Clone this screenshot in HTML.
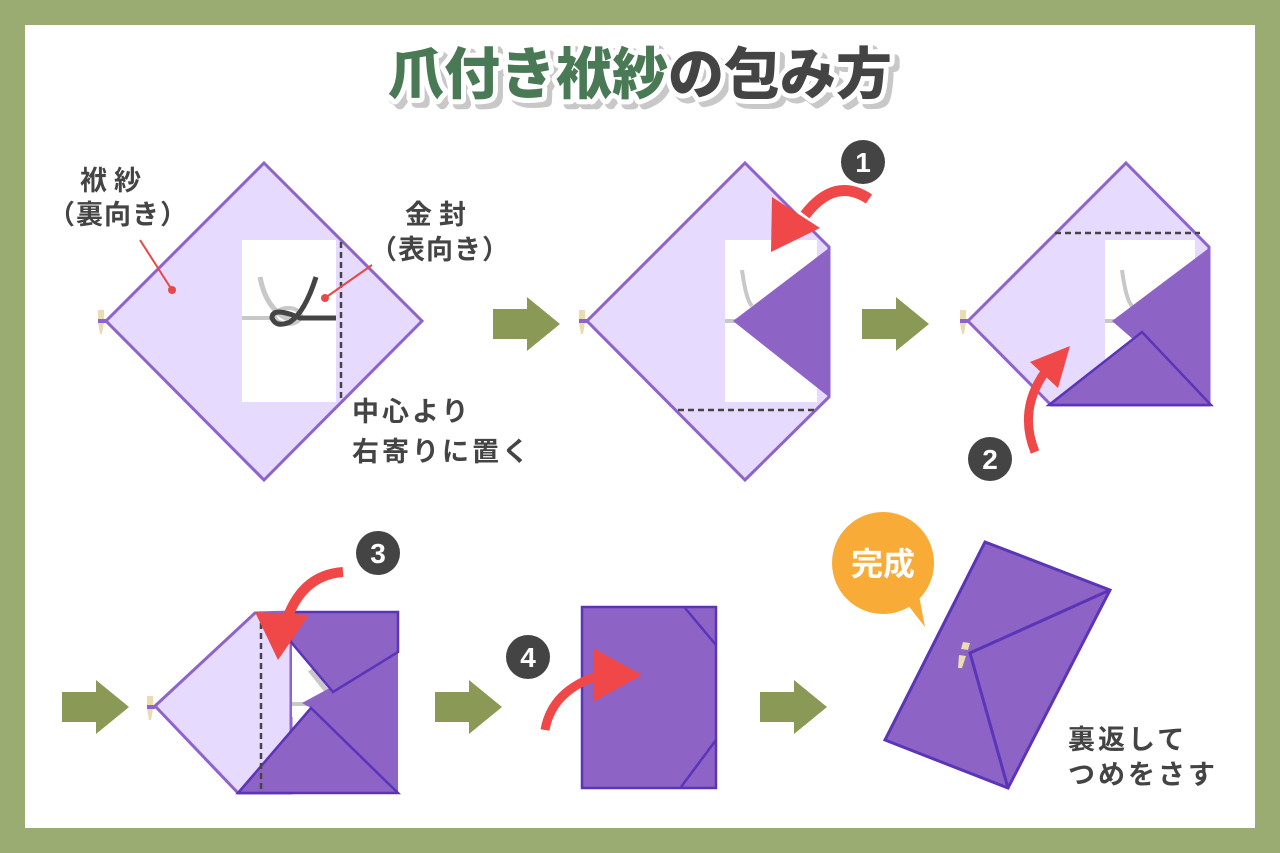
<!DOCTYPE html>
<html><head><meta charset="utf-8">
<style>
html,body{margin:0;padding:0;background:#9aac72;}
svg{display:block;}
text{font-family:"Liberation Sans","Noto Sans CJK JP",sans-serif;}
</style></head>
<body>
<svg width="1280" height="853" viewBox="0 0 1280 853" xmlns="http://www.w3.org/2000/svg">
<rect x="0" y="0" width="1280" height="853" fill="#9aac72"/>
<rect x="25" y="25" width="1230" height="803" fill="#ffffff"/>

<!-- Title -->
<g font-size="56" font-weight="900" text-anchor="middle">
  <text x="645" y="99" fill="#c8c8c8" stroke="#c8c8c8" stroke-width="10" stroke-linejoin="round">爪付き袱紗<tspan>の包み方</tspan></text>
  <text x="640" y="94" fill="#fff" stroke="#fff" stroke-width="10" stroke-linejoin="round">爪付き袱紗の包み方</text>
  <text x="640" y="94"><tspan fill="#4a7a55">爪付き袱紗</tspan><tspan fill="#444">の包み方</tspan></text>
</g>

<defs>
  <g id="garrow"><polygon points="0,12 34,12 34,0 67,27 34,54 34,42 0,42" fill="#8a9a56"/></g>
  <g id="claw"><rect x="-2" y="-11" width="6" height="9" fill="#e8dcb0"/><polygon points="-2,2 4,2 2,13 0,13" fill="#e8dcb0"/><rect x="-2" y="-2" width="8" height="4" fill="#8e63cc"/></g>
</defs>

<!-- Diagram 1 -->
<use href="#claw" x="100" y="321"/>
<polygon points="264,163 422,321 264,480 106,321" fill="#e6daff" stroke="#8e63cc" stroke-width="3"/>
<rect x="242" y="240" width="94" height="162" fill="#fff"/>
<line x1="341" y1="242" x2="341" y2="400" stroke="#444" stroke-width="2.5" stroke-dasharray="6,4"/>
<line x1="242" y1="318" x2="275" y2="318" stroke="#c8c8c8" stroke-width="4"/>
<path d="M260,277 Q266,310 290,320" fill="none" stroke="#c8c8c8" stroke-width="5"/>
<ellipse cx="288" cy="316" rx="13" ry="8" fill="none" stroke="#c8c8c8" stroke-width="4"/>
<path d="M316,277 Q305,312 290,322 Q276,328 272,318 Q272,306 300,318 L336,318" fill="none" stroke="#444" stroke-width="5"/>
<line x1="140" y1="240" x2="172" y2="290" stroke="#e84848" stroke-width="2"/>
<circle cx="172" cy="290" r="4" fill="#e84848"/>
<line x1="372" y1="265" x2="325" y2="298" stroke="#e84848" stroke-width="2"/>
<circle cx="325" cy="298" r="4" fill="#e84848"/>
<g fill="#444" font-size="27" font-weight="bold">
  <text x="80" y="190" letter-spacing="7">袱紗</text>
  <text x="48" y="224" letter-spacing="1">（裏向き）</text>
  <text x="405" y="224" letter-spacing="7">金封</text>
  <text x="370" y="259" letter-spacing="1">（表向き）</text>
  <text x="352" y="421" letter-spacing="3">中心より</text>
  <text x="352" y="461" letter-spacing="3">右寄りに置く</text>
</g>
<use href="#garrow" x="493" y="297"/>

<!-- Diagram 2 -->
<use href="#claw" x="581" y="321"/>
<polygon points="745,163 829,247 829,397 745,480 587,321" fill="#e6daff" stroke="#8e63cc" stroke-width="3"/>
<rect x="725" y="240" width="92" height="162" fill="#fff"/>
<path d="M742,270 Q746,300 752,306" fill="none" stroke="#c8c8c8" stroke-width="4"/>
<line x1="725" y1="321" x2="740" y2="321" stroke="#c8c8c8" stroke-width="4"/>
<polygon points="829,248 733,321 829,397" fill="#8d63c6"/>
<line x1="678" y1="410" x2="817" y2="410" stroke="#444" stroke-width="2.5" stroke-dasharray="6,4"/>
<path d="M869,199 Q835,176 805,215" fill="none" stroke="#f04848" stroke-width="11"/>
<polygon points="772,197 820,228 771,252" fill="#f04848"/>
<use href="#garrow" x="862" y="297"/>

<!-- Diagram 3 -->
<use href="#claw" x="962" y="321"/>
<polygon points="1126,163 1209,247 1209,405 1051,405 968,321" fill="#e6daff" stroke="#8e63cc" stroke-width="3"/>
<rect x="1105" y="240" width="90" height="160" fill="#fff"/>
<path d="M1122,270 Q1126,300 1132,306" fill="none" stroke="#c8c8c8" stroke-width="4"/>
<line x1="1105" y1="321" x2="1120" y2="321" stroke="#c8c8c8" stroke-width="4"/>
<polygon points="1209,248 1112,321 1209,405" fill="#8d63c6"/>
<polygon points="1049,405 1142,332 1211,405" fill="#8d63c6" stroke="#5a35b8" stroke-width="2.5"/>
<line x1="1055" y1="233" x2="1200" y2="233" stroke="#444" stroke-width="2.5" stroke-dasharray="6,4"/>
<path d="M1035,452 Q1018,410 1045,372" fill="none" stroke="#f04848" stroke-width="9"/>
<polygon points="1030,362 1070,346 1058,388" fill="#f04848"/>

<!-- numbers -->
<g font-size="28" font-weight="bold" fill="#fff" text-anchor="middle">
  <circle cx="863" cy="162" r="22" fill="#444"/><text x="863" y="172">1</text>
  <circle cx="990" cy="459" r="22" fill="#444"/><text x="990" y="469">2</text>
  <circle cx="378" cy="553" r="22" fill="#444"/><text x="378" y="563">3</text>
  <circle cx="528" cy="657" r="22" fill="#444"/><text x="528" y="667">4</text>
</g>

<!-- Diagram 4 -->
<use href="#garrow" x="62" y="680"/>
<use href="#claw" x="149" y="707"/>
<polygon points="155,706 255,613 291,612 291,793 238,793" fill="#e6daff" stroke="#8e63cc" stroke-width="3"/>
<rect x="292" y="642" width="34" height="75" fill="#fff"/>
<line x1="292" y1="704" x2="310" y2="704" stroke="#c8c8c8" stroke-width="4"/>
<line x1="310" y1="670" x2="330" y2="695" stroke="#c8c8c8" stroke-width="5"/>
<polygon points="398,612 398,793 311,708 302,703 326,690 398,652" fill="#8d63c6"/>
<polygon points="238,793 311,708 398,793" fill="#8d63c6" stroke="#5a35b8" stroke-width="2.5"/>
<polygon points="291,612 398,612 398,652 333,692 291,642" fill="#8d63c6" stroke="#5a35b8" stroke-width="2.5"/>
<line x1="261" y1="623" x2="261" y2="793" stroke="#444" stroke-width="2.5" stroke-dasharray="6,4"/>
<path d="M343,572 Q300,575 285,625" fill="none" stroke="#f04848" stroke-width="10"/>
<polygon points="255,612 309,615 278,660" fill="#f04848"/>
<use href="#garrow" x="435" y="680"/>

<!-- Diagram 5 -->
<rect x="582" y="607" width="134" height="181" fill="#8d63c6" stroke="#5a35b8" stroke-width="2.5"/>
<line x1="685" y1="608" x2="716" y2="645" stroke="#5a35b8" stroke-width="2.5"/>
<line x1="681" y1="787" x2="716" y2="740" stroke="#5a35b8" stroke-width="2.5"/>
<path d="M545,730 Q552,690 600,675" fill="none" stroke="#f04848" stroke-width="9"/>
<polygon points="593,648 642,675 593,702" fill="#f04848"/>
<use href="#garrow" x="760" y="680"/>

<!-- Diagram 6 -->
<polygon points="985,542 1110,590 1008,788 885,740" fill="#8d63c6" stroke="#5a35b8" stroke-width="3"/>
<polyline points="1110,590 970,653 1008,788" fill="none" stroke="#5a35b8" stroke-width="3"/>
<polygon points="963,642 970,643 968,650 961,649" fill="#e8dcb0"/>
<polygon points="959,655 966,656 962,668 958,668" fill="#e8dcb0"/>
<circle cx="883" cy="563" r="51" fill="#f9ab37"/>
<polygon points="900,595 925,627 918,590" fill="#f9ab37"/>
<text x="883" y="575" font-size="32" font-weight="bold" fill="#fff" text-anchor="middle">完成</text>
<g fill="#444" font-size="27" font-weight="bold" letter-spacing="3">
  <text x="1068" y="749">裏返して</text>
  <text x="1068" y="784">つめをさす</text>
</g>
</svg>
</body></html>
